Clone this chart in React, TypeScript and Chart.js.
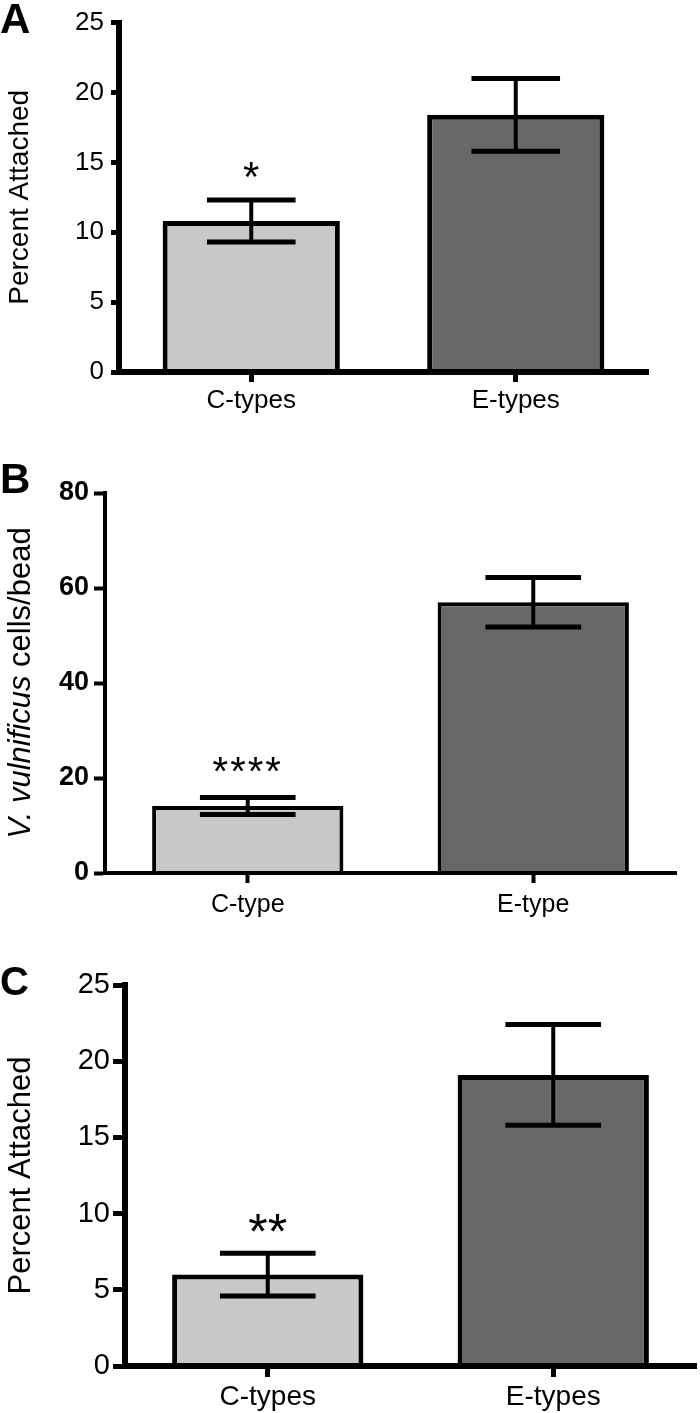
import React, { useEffect, useRef } from "react";
import { Chart, registerables } from "chart.js";

Chart.register(...registerables);

const FONT = "'Liberation Sans', Arial, Helvetica, sans-serif";

// ---------- Panel A ----------
const categoriesA = ["C-types", "E-types"];
const meansA = [10.8, 18.4];
const semA = [1.5, 2.6];
const sigA = ["*", ""];
const yTicksA = [0, 5, 10, 15, 20, 25];

// ---------- Panel B ----------
const categoriesB = ["C-type", "E-type"];
const meansB = [14.1, 57.0];
const semB = [1.8, 5.2];
const sigB = ["****", ""];
const yTicksB = [0, 20, 40, 60, 80];

// ---------- Panel C ----------
const categoriesC = ["C-types", "E-types"];
const meansC = [6.0, 19.1];
const semC = [1.4, 3.3];
const sigC = ["**", ""];
const yTicksC = [0, 5, 10, 15, 20, 25];

const barColors = ["#c8c8c8", "#686868"];

type PanelSpec = {
  letter: string;
  letterFont: string;
  letterY: number;
  categories: string[];
  means: number[];
  sem: number[];
  sig: string[];
  yTicks: number[];
  canvasHeight: number;
  padTop: number;
  padRight: number;
  yWidth: number;
  xHeight: number;
  axisWidth: number;
  barBorder: number;
  yTickLen: number;
  yTickWidth: number;
  xTickLen: number;
  xTickWidth: number;
  yTickFont: { size: number; weight?: string };
  yTickPad: number;
  catSize: number;
  xPad: number;
  title?: string;
  titleSize?: number;
  titlePad?: number;
  titleParts?: { text: string; font: string }[];
  titleX?: number;
  stemWidth: number;
  capWidth: number;
  sigFont: string;
  sigGap: number;
  sigSpacing?: string;
};

function errorBarPlugin(p: PanelSpec) {
  return {
    id: "errorBars",
    afterDatasetsDraw(chart: any) {
      const { ctx } = chart;
      const yScale = chart.scales.y;
      const meta = chart.getDatasetMeta(0);
      ctx.save();
      ctx.strokeStyle = "#000";
      ctx.fillStyle = "#000";
      meta.data.forEach((bar: any, i: number) => {
        const m = p.means[i];
        const e = p.sem[i];
        const x = bar.x;
        const yTop = yScale.getPixelForValue(m + e);
        const yBot = yScale.getPixelForValue(m - e);
        const half = bar.width / 4;
        ctx.lineCap = "butt";
        ctx.lineWidth = p.stemWidth;
        ctx.beginPath();
        ctx.moveTo(x, yTop);
        ctx.lineTo(x, yBot);
        ctx.stroke();
        ctx.lineWidth = p.capWidth;
        ctx.beginPath();
        ctx.moveTo(x - half, yTop);
        ctx.lineTo(x + half, yTop);
        ctx.moveTo(x - half, yBot);
        ctx.lineTo(x + half, yBot);
        ctx.stroke();
        const s = p.sig[i];
        if (s) {
          ctx.font = p.sigFont;
          if (p.sigSpacing) (ctx as any).letterSpacing = p.sigSpacing;
          ctx.textAlign = "center";
          ctx.textBaseline = "alphabetic";
          ctx.fillText(s, x, yTop - p.sigGap);
          (ctx as any).letterSpacing = "0px";
        }
      });
      ctx.restore();
    },
  };
}

function panelTextPlugin(p: PanelSpec) {
  return {
    id: "panelText",
    afterDraw(chart: any) {
      const { ctx } = chart;
      ctx.save();
      ctx.fillStyle = "#000";
      ctx.font = p.letterFont;
      ctx.textAlign = "left";
      ctx.textBaseline = "alphabetic";
      ctx.fillText(p.letter, 0, p.letterY);
      if (p.titleParts) {
        const area = chart.chartArea;
        const cy = (area.top + area.bottom) / 2;
        ctx.translate(p.titleX || 20, cy);
        ctx.rotate(-Math.PI / 2);
        ctx.textBaseline = "middle";
        let total = 0;
        const widths = p.titleParts.map((part) => {
          ctx.font = part.font;
          const w = ctx.measureText(part.text).width;
          total += w;
          return w;
        });
        let x = -total / 2;
        p.titleParts.forEach((part, i) => {
          ctx.font = part.font;
          ctx.fillText(part.text, x, 0);
          x += widths[i];
        });
      }
      ctx.restore();
    },
  };
}

function makeConfig(p: PanelSpec): any {
  const yMin = p.yTicks[0];
  const yMax = p.yTicks[p.yTicks.length - 1];
  const step = p.yTicks[1] - p.yTicks[0];
  return {
    type: "bar",
    data: {
      labels: p.categories,
      datasets: [
        {
          data: p.means,
          backgroundColor: barColors,
          borderColor: "#000",
          borderWidth: p.barBorder,
          borderSkipped: "start",
          barPercentage: 0.67,
          categoryPercentage: 1,
        },
      ],
    },
    options: {
      responsive: false,
      animation: false,
      devicePixelRatio: 1,
      layout: { padding: { left: 0, right: p.padRight, top: p.padTop, bottom: 0 } },
      plugins: { legend: { display: false }, tooltip: { enabled: false } },
      scales: {
        x: {
          offset: true,
          grid: {
            display: true,
            offset: false,
            drawOnChartArea: false,
            drawTicks: true,
            tickLength: p.xTickLen,
            tickWidth: p.xTickWidth,
            tickColor: "#000",
          },
          border: { display: true, color: "#000", width: p.axisWidth, z: 1 },
          ticks: {
            color: "#000",
            font: { family: FONT, size: p.catSize },
            padding: p.xPad,
            maxRotation: 0,
            autoSkip: false,
          },
          afterFit: (s: any) => {
            s.height = p.xHeight;
          },
        },
        y: {
          min: yMin,
          max: yMax,
          grid: {
            display: true,
            drawOnChartArea: false,
            drawTicks: true,
            tickLength: p.yTickLen,
            tickWidth: p.yTickWidth,
            tickColor: "#000",
          },
          border: { display: true, color: "#000", width: p.axisWidth },
          ticks: {
            stepSize: step,
            color: "#000",
            font: { family: FONT, size: p.yTickFont.size, weight: p.yTickFont.weight || "normal" },
            padding: p.yTickPad,
          },
          title: p.title
            ? {
                display: true,
                text: p.title,
                color: "#000",
                font: { family: FONT, size: p.titleSize },
                padding: { top: p.titlePad || 0, bottom: 0 },
              }
            : { display: false },
          afterFit: (s: any) => {
            s.width = p.yWidth;
          },
        },
      },
    },
    plugins: [errorBarPlugin(p), panelTextPlugin(p)],
  };
}

const specA: PanelSpec = {
  letter: "A",
  letterFont: `bold 42px ${FONT}`,
  letterY: 33,
  categories: categoriesA,
  means: meansA,
  sem: semA,
  sig: sigA,
  yTicks: yTicksA,
  canvasHeight: 420,
  padTop: 20,
  padRight: 52,
  yWidth: 119,
  xHeight: 48,
  axisWidth: 6,
  barBorder: 5,
  yTickLen: 8,
  yTickWidth: 5,
  xTickLen: 10,
  xTickWidth: 5,
  yTickFont: { size: 26 },
  yTickPad: 7,
  catSize: 26,
  xPad: 3,
  title: "Percent Attached",
  titleSize: 28,
  titlePad: 3,
  stemWidth: 4,
  capWidth: 5,
  sigFont: `42px ${FONT}`,
  sigGap: 9,
};

const specB: PanelSpec = {
  letter: "B",
  letterFont: `bold 42px ${FONT}`,
  letterY: 63,
  categories: categoriesB,
  means: meansB,
  sem: semB,
  sig: sigB,
  yTicks: yTicksB,
  canvasHeight: 490,
  padTop: 63,
  padRight: 24,
  yWidth: 105,
  xHeight: 47,
  axisWidth: 4,
  barBorder: 4,
  yTickLen: 11,
  yTickWidth: 4,
  xTickLen: 10,
  xTickWidth: 4,
  yTickFont: { size: 27, weight: "bold" },
  yTickPad: 5,
  catSize: 25,
  xPad: 7,
  titleParts: [
    { text: "V. vulnificus", font: `italic 31px ${FONT}` },
    { text: " cells/bead", font: `31px ${FONT}` },
  ],
  titleX: 21,
  stemWidth: 4,
  capWidth: 5,
  sigFont: `40px ${FONT}`,
  sigGap: 12,
  sigSpacing: "2px",
};

const specC: PanelSpec = {
  letter: "C",
  letterFont: `bold 40px ${FONT}`,
  letterY: 75,
  categories: categoriesC,
  means: meansC,
  sem: semC,
  sig: sigC,
  yTicks: yTicksC,
  canvasHeight: 493,
  padTop: 65,
  padRight: 4,
  yWidth: 125,
  xHeight: 47,
  axisWidth: 6,
  barBorder: 5,
  yTickLen: 12,
  yTickWidth: 5,
  xTickLen: 11,
  xTickWidth: 5,
  yTickFont: { size: 29 },
  yTickPad: 3,
  catSize: 28,
  xPad: 3,
  title: "Percent Attached",
  titleSize: 31,
  titlePad: 3,
  stemWidth: 4,
  capWidth: 5,
  sigFont: `50px ${FONT}`,
  sigGap: 4,
};

function Panel({ spec, top }: { spec: PanelSpec; top: number }) {
  const ref = useRef<HTMLCanvasElement | null>(null);
  useEffect(() => {
    if (!ref.current) return;
    const chart = new Chart(ref.current, makeConfig(spec));
    return () => chart.destroy();
  }, [spec]);
  return (
    <canvas
      ref={ref}
      width={700}
      height={spec.canvasHeight}
      style={{
        position: "absolute",
        left: 0,
        top,
        width: 700,
        height: spec.canvasHeight,
        display: "block",
      }}
    />
  );
}

export default function App() {
  return (
    <div
      style={{
        position: "absolute",
        left: 0,
        top: 0,
        width: 700,
        height: 1413,
        background: "#fff",
        overflow: "hidden",
      }}
    >
      <Panel spec={specA} top={0} />
      <Panel spec={specB} top={430} />
      <Panel spec={specC} top={920} />
    </div>
  );
}
